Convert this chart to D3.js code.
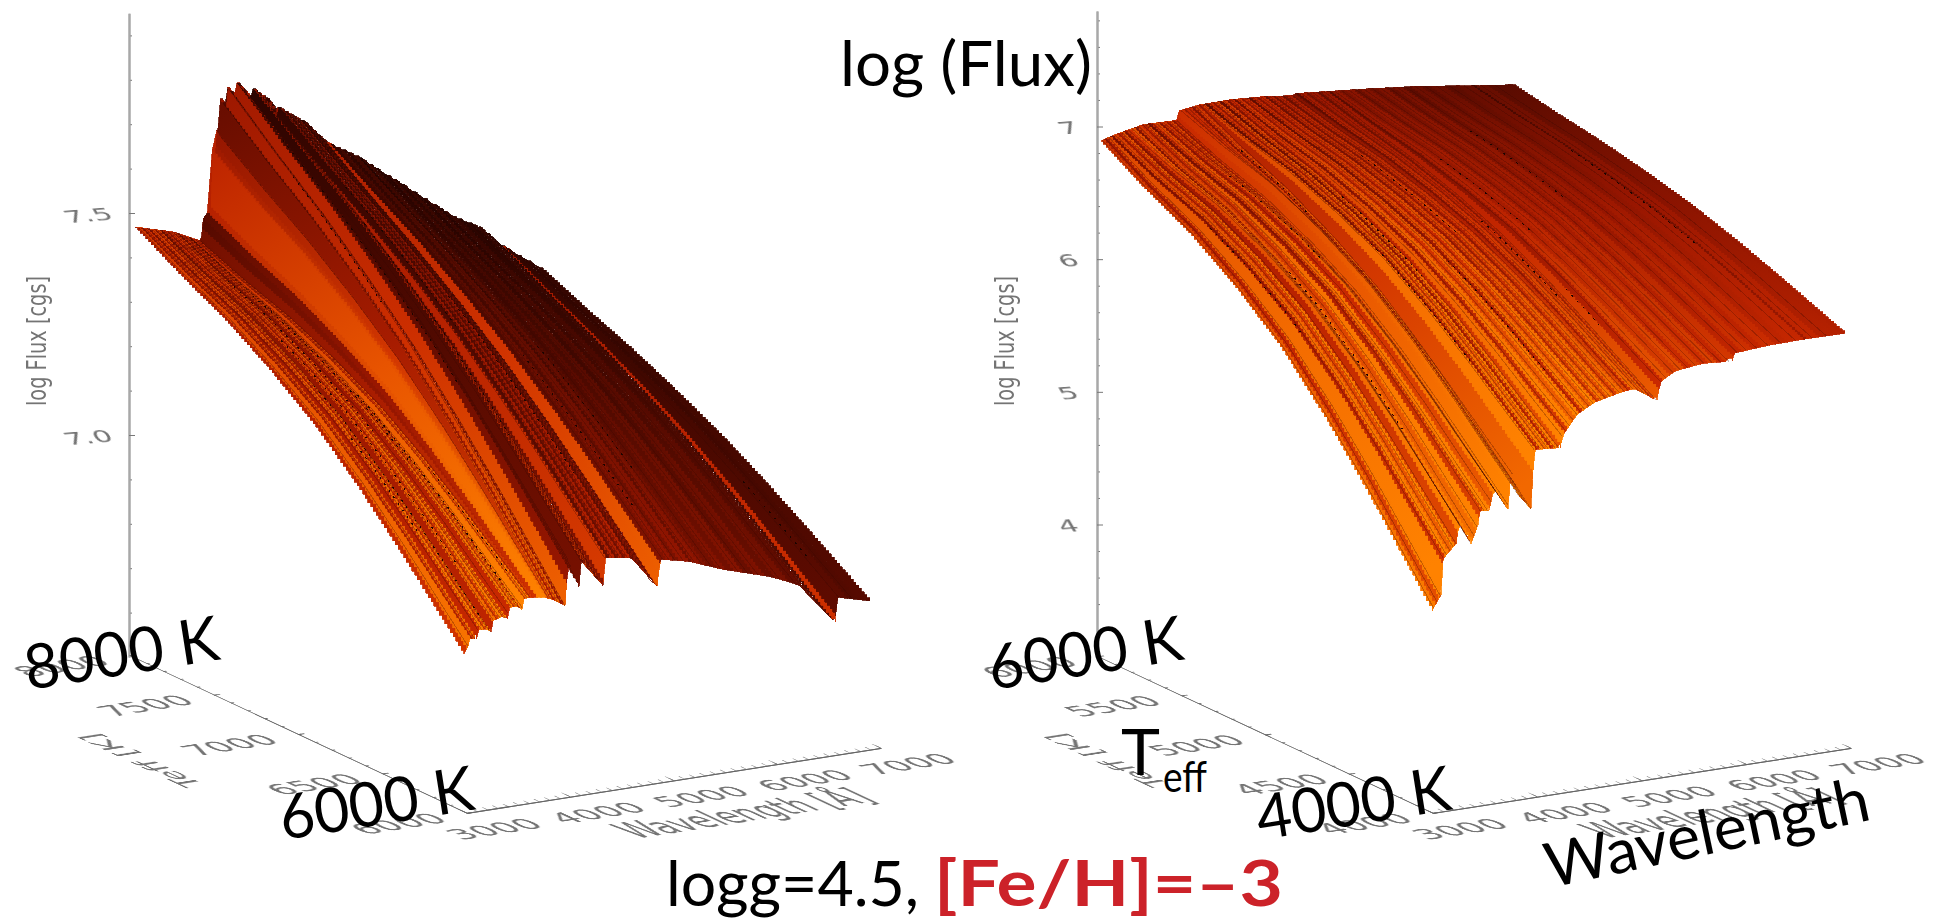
<!DOCTYPE html>
<html>
<head>
<meta charset="utf-8">
<script src="https://cdn.jsdelivr.net/npm/d3@7"></script>
<style>
  body { margin: 0; background: #fff; }
  .tick text, .ax-title { font-family: "DejaVu Sans", sans-serif; fill: #747474; filter: blur(0.35px); }
  .big { font-family: Lato, "Open Sans", sans-serif; fill: #000; }
</style>
</head>
<body>
<svg id="graph" width="1934" height="924"></svg>
<script>
// ---- left panel: Teff 6000-8000 K ----
var leftHotWave = [3000, 3357, 3640, 3650, 3660, 3735, 3745, 3780, 3790, 3815, 3820, 3885, 3890, 3975, 3985, 4130, 4140, 4275, 4370, 4380, 4630, 4850, 4880, 5135, 5580, 6070, 6320, 6550, 6600, 6920];
var leftHotFlux = [7.474, 7.45, 7.418, 7.422, 7.469, 7.492, 7.618, 7.612, 7.664, 7.652, 7.733, 7.712, 7.757, 7.732, 7.763, 7.722, 7.744, 7.717, 7.672, 7.694, 7.652, 7.597, 7.593, 7.557, 7.476, 7.386, 7.354, 7.302, 7.293, 7.239];
var leftCoolWave = [3000, 3040, 3045, 3120, 3130, 3232, 3260, 3270, 3367, 3420, 3430, 3512, 3560, 3570, 3647, 3783, 3870, 3976, 4005, 4111, 4121, 4343, 4357, 4614, 4865, 4894, 5174, 5502, 5947, 6227, 6585, 6604, 6923];
var leftCoolFlux = [6.855, 6.872, 6.89, 6.885, 6.905, 6.904, 6.895, 6.92, 6.927, 6.92, 6.945, 6.945, 6.935, 6.96, 6.96, 6.955, 6.946, 6.929, 7.032, 6.967, 7.027, 6.961, 7.023, 7.014, 6.94, 7.0, 6.985, 6.955, 6.923, 6.895, 6.796, 6.852, 6.832];
var leftBulgeWave = [3000, 4500, 6920];
var leftBulgeFlux = [0.079, 0.05, 0.034];
var leftHotShadeWave = [3000, 3300, 3640, 3660, 3760, 3800, 4000, 4300, 4880, 5300, 6000, 6920];
var leftHotShade = [0.6, 0.55, 0.5, 0.5, 0.62, 0.4, 0.33, 0.27, 0.12, 0.05, 0.04, 0.07];
var leftCoolShadeWave = [3000, 3300, 3640, 3700, 3780, 3830, 4100, 4400, 4900, 5500, 6000, 6500, 6920];
var leftCoolShade = [0.82, 0.85, 0.88, 1.0, 1.0, 0.82, 0.6, 0.5, 0.42, 0.36, 0.32, 0.27, 0.22];
var leftLineWave = [3000, 3025, 3060, 3090, 3120, 3150, 3185, 3215, 3240, 3270, 3300, 3330, 3360, 3385, 3410, 3440, 3470, 3495, 3520, 3550, 3575, 3600, 3625, 3655, 3700, 3800, 3825, 3850, 3885, 3925, 3960, 3990, 4020, 4050, 4085, 4110, 4150, 4185, 4225, 4260, 4295, 4330, 4345, 4370, 4410, 4450, 4490, 4525, 4560, 4600, 4640, 4680, 4720, 4770, 4820, 4855, 4890, 4950, 5010, 5070, 5165, 5200, 5270, 5330, 5440, 5520, 5600, 5690, 5790, 5880, 5900, 6000, 6130, 6270, 6400, 6555, 6590, 6700, 6800];
var leftLineShift = [-0.1, 0.08, -0.12, 0.06, -0.15, 0.1, -0.08, 0.12, -0.18, 0.05, -0.1, 0.1, -0.05, 0.13, -0.16, 0.08, -0.07, 0.12, -0.2, 0.1, -0.04, 0.08, -0.14, -0.22, 0, -0.08, 0.05, -0.12, 0.08, -0.15, 0.12, -0.18, 0.1, -0.12, 0.15, -0.2, 0.1, -0.1, 0.12, -0.14, 0.12, -0.1, 0.15, -0.14, 0.06, -0.1, 0.05, -0.07, 0.08, -0.1, 0.03, -0.07, 0.05, -0.06, 0.04, 0.32, -0.03, 0.02, -0.04, 0.03, -0.06, 0.03, 0, -0.03, 0.02, -0.02, 0.03, -0.03, 0.02, 0.04, -0.02, 0.02, -0.02, 0.01, -0.02, 0.32, 0, -0.02, 0];
var leftThinWave = [3040, 3075, 3105, 3135, 3170, 3200, 3228, 3255, 3285, 3315, 3345, 3372, 3398, 3425, 3455, 3482, 3508, 3535, 3562, 3588, 3612, 3640, 3815, 3840, 3868, 3905, 3942, 3975, 4005, 4035, 4068, 4098, 4130, 4168, 4205, 4242, 4278, 4312, 4358, 4390, 4430, 4470, 4508, 4542, 4580, 4620, 4660, 4700, 4745, 4795, 4840, 4920, 4980, 5040, 5120, 5230, 5300, 5390, 5480, 5650, 5740, 5840, 6050, 6200, 6340, 6480, 6620, 6750];
var leftSpeckWave = [3180, 3250, 3300, 3420, 3500, 3560, 3610, 3890, 4110, 4260, 4400, 4600, 5000, 5300, 6650];
var leftSpeckFrom = [0.6, 0.45, 0.35, 0.15, 0.2, 0.5, 0.7, 0.2, 0.1, 0.3, 0.2, 0.45, 0.55, 0.5, 0.7];
var leftSpeckTo = [0.8, 0.98, 0.9, 0.6, 0.7, 0.95, 0.95, 0.5, 0.65, 0.75, 0.55, 0.85, 0.9, 0.8, 0.9];
var leftFluxTicks = [7.0, 7.5];
var leftFluxMinor = [6.6, 6.7, 6.8, 6.9, 7.1, 7.2, 7.3, 7.4, 7.6, 7.7, 7.8, 7.9];
var leftTempTicks = [8000, 7500, 7000, 6500, 6000];

// ---- right panel: Teff 4000-6000 K ----
var rightHotWave = [3000, 3137, 3411, 3742, 3751, 3933, 4235, 4565, 4842, 4867, 5500, 6020, 6543, 6982];
var rightHotFlux = [6.903, 6.933, 6.977, 6.968, 7.038, 7.059, 7.062, 7.046, 7.019, 7.032, 6.987, 6.945, 6.886, 6.839];
var rightCoolWave = [3000, 3086, 3096, 3230, 3258, 3373, 3440, 3450, 3545, 3593, 3727, 3756, 3837, 3947, 3976, 4225, 4250, 4388, 4550, 4800, 4933, 5153, 5182, 5321, 5593, 5871, 5886, 6225, 6560, 6904];
var rightCoolFlux = [4.525, 4.635, 4.897, 5.002, 5.157, 4.984, 5.12, 5.224, 5.213, 5.372, 5.2, 5.496, 5.283, 5.18, 5.62, 5.605, 5.693, 5.834, 5.905, 5.95, 5.964, 5.848, 5.98, 6.047, 6.073, 6.055, 6.113, 6.132, 6.137, 6.133];
var rightBulgeWave = [3000, 4500, 6950];
var rightBulgeFlux = [0.37, 0.2, 0.098];
var rightHotShadeWave = [3000, 3700, 4300, 5000, 5700, 6300, 6950];
var rightHotShade = [0.62, 0.62, 0.55, 0.42, 0.33, 0.27, 0.24];
var rightCoolShadeWave = [3000, 3500, 4000, 4500, 5000, 5500, 6000, 6500, 6950];
var rightCoolShade = [0.9, 1.0, 0.95, 0.9, 0.82, 0.72, 0.68, 0.62, 0.56];
var rightLineWave = [3000, 3030, 3065, 3095, 3120, 3155, 3190, 3215, 3245, 3285, 3320, 3345, 3385, 3420, 3445, 3480, 3515, 3550, 3580, 3615, 3650, 3680, 3715, 3745, 3790, 3820, 3860, 3890, 3925, 3965, 3990, 4025, 4060, 4095, 4125, 4160, 4195, 4230, 4265, 4295, 4335, 4370, 4405, 4440, 4480, 4520, 4560, 4600, 4640, 4680, 4725, 4770, 4820, 4860, 4895, 4950, 5000, 5060, 5110, 5170, 5205, 5270, 5340, 5410, 5480, 5560, 5640, 5720, 5800, 5880, 5960, 6060, 6150, 6280, 6400, 6555, 6580, 6700, 6850];
var rightLineShift = [0.05, -0.1, 0.1, -0.18, 0.08, -0.06, 0.12, -0.14, 0.04, 0.12, -0.16, 0.06, -0.05, 0.1, -0.2, 0.03, 0.1, -0.12, 0.05, -0.08, 0.08, -0.1, 0.02, 0.04, -0.04, 0.03, -0.14, 0.08, -0.05, 0.1, -0.22, 0.06, -0.06, 0.12, -0.2, 0.1, -0.1, 0.06, -0.16, 0.1, -0.04, 0.08, -0.18, 0.06, -0.05, 0.08, -0.12, 0.05, -0.08, 0.06, -0.1, 0.04, -0.06, -0.13, 0.04, -0.04, 0.03, -0.07, 0.03, -0.1, 0.02, -0.03, 0.02, -0.05, 0.01, -0.03, 0.02, -0.04, 0.01, -0.05, 0, -0.03, 0.01, -0.02, 0.01, -0.1, 0.02, -0.01, 0];
var rightThinWave = [3015, 3048, 3080, 3108, 3138, 3172, 3203, 3230, 3265, 3302, 3333, 3365, 3402, 3432, 3462, 3498, 3532, 3565, 3598, 3632, 3665, 3698, 3730, 3768, 3805, 3840, 3875, 3908, 3945, 3978, 4008, 4042, 4078, 4110, 4142, 4178, 4212, 4248, 4280, 4315, 4352, 4388, 4422, 4460, 4500, 4540, 4580, 4620, 4660, 4702, 4748, 4795, 4840, 4878, 4920, 4975, 5030, 5085, 5140, 5188, 5238, 5305, 5375, 5445, 5520, 5600, 5680, 5760, 5840, 5920, 6010, 6105, 6215, 6340, 6480, 6640, 6775];
var rightSpeckWave = [3100, 3380, 3600, 3900, 4000, 4200, 4420, 4700, 5060, 5170, 5300, 5900, 6555];
var rightSpeckFrom = [0.3, 0.45, 0.2, 0.14, 0.5, 0.35, 0.6, 0.25, 0.5, 0.72, 0.3, 0.2, 0.3];
var rightSpeckTo = [0.6, 0.8, 0.5, 0.36, 0.8, 0.6, 0.9, 0.55, 0.75, 0.84, 0.6, 0.5, 0.7];
var rightFluxTicks = [4, 5, 6, 7];
var rightFluxMinor = [3.2, 3.4, 3.6, 3.8, 4.2, 4.4, 4.6, 4.8, 5.2, 5.4, 5.6, 5.8, 6.2, 6.4, 6.6, 6.8, 7.2, 7.4, 7.6, 7.8];
var rightTempTicks = [6000, 5500, 5000, 4500, 4000];

// ---- shared ----
var waveTicks = [3000, 4000, 5000, 6000, 7000];
var waveMinor = d3.range(3000, 7001, 100);
var curveShare = [0, 0.29, 0.69, 0.92, 1, 0.84, 0.57, 0.25, 0]; // how far the strips bow up along Teff
var curveAt = [0, 0.13, 0.27, 0.41, 0.545, 0.68, 0.8, 0.91, 1];
var shadeAlong = [0, 0.5, 1]; // hot-to-cool shade mix at the start, middle and end of a strip
var shadeStops = [0, 0.25, 0.45, 0.65, 0.8, 1];
var shadeColors = ["#220300", "#5c0b00", "#981600", "#c82800", "#e85400", "#ff8200"];

var svg = d3.select("#graph");
var color = d3.scaleLinear().domain(shadeStops).range(shadeColors).clamp(true);
var share = d3.scaleLinear().domain(curveAt).range(curveShare);
var gradId = 0;

function table(xs, ys) {
  return d3.scaleLinear().domain(xs).range(ys).clamp(true);
}

// Turn a list of points into a staircase, like the pixels of the original raster
function stairs(pts) {
  var out = [];
  pts.forEach(function(q, i) {
    out.push(q);
    if (i < pts.length - 1) out.push([pts[i + 1][0], q[1]]);
  });
  return out;
}

function drawPanel(p) {
  var g = svg.append("g");

  // Scales for the three projected directions
  var fluxY = d3.scaleLinear().domain(p.fluxDomain).range(p.fluxRange);
  var waveX = d3.scaleLinear().domain([3000, 7000]).range([0, p.waveLen]);
  var waveY = d3.scaleLinear().domain([3000, 7000]).range([0, -65]);
  var tempX = d3.scaleLinear().domain([p.tempTicks[0], p.tempTicks[4]]).range([0, p.tempLen]);
  var tempY = d3.scaleLinear().domain([p.tempTicks[0], p.tempTicks[4]]).range([0, 156]);

  var hot = table(p.hotWave, p.hotFlux), cool = table(p.coolWave, p.coolFlux), bulge = table(p.bulgeWave, p.bulgeFlux);
  var hotShade = table(p.hotShadeWave, p.hotShade), coolShade = table(p.coolShadeWave, p.coolShade);

  function project(w, t) {
    var temp = p.tempHi + (p.tempLo - p.tempHi) * t;
    var f = hot(w) * (1 - t) + cool(w) * t + bulge(w) * share(t);
    return [p.x0 + waveX(w) + tempX(temp), fluxY(f) + waveY(w) + tempY(temp)];
  }

  // Strip edges: the line list plus every edge knot, so notches stay sharp
  var edges = Array.from(new Set(p.lineWave.concat(p.hotWave, p.coolWave, [p.waveEnd])))
    .filter(w => w <= p.waveEnd).sort(d3.ascending);
  var shift = d3.scaleThreshold().domain(p.lineWave.slice(1)).range(p.lineShift);
  var rows = d3.range(0, 1.0001, 1 / 120);
  var outline = d3.line();
  var defs = g.append("defs");
  var surf = g.append("g").attr("shape-rendering", "crispEdges");

  d3.pairs(edges).forEach(function(pair) {
    var w0 = pair[0], w1 = Math.min(pair[1] + 12, p.waveEnd);
    var left = stairs(rows.map(t => project(w0, t)));
    var right = stairs(rows.map(t => project(w1, t))).reverse();
    var s = shift(w0) * 1.3, id = "strip" + (gradId++);
    var mid = (w0 + w1) / 2;
    var a = project(mid, 0), b = project(mid, 1);
    defs.append("linearGradient").attr("id", id).attr("gradientUnits", "userSpaceOnUse")
      .attr("x1", a[0]).attr("y1", a[1]).attr("x2", b[0]).attr("y2", b[1])
      .selectAll("stop").data(shadeAlong).enter().append("stop")
      .attr("offset", (d, i) => i / 2)
      .attr("stop-color", d => color(hotShade(mid) + (coolShade(mid) - hotShade(mid)) * d + s));
    surf.append("path")
      .attr("d", outline(left.concat(right)) + "Z")
      .attr("fill", "url(#" + id + ")")
      .attr("stroke", "url(#" + id + ")").attr("stroke-width", 0.8);
  });

  // Fine dark lines running along the strips
  p.thinWave.forEach(function(w) {
    var pts = rows.map(t => project(w, t));
    surf.append("path").attr("d", outline(pts)).attr("fill", "none")
      .attr("stroke", "#3a0700").attr("stroke-width", 1).attr("stroke-opacity", 0.28);
  });

  // Small dark streaks along some lines
  p.speckWave.forEach(function(w, i) {
    var pts = d3.range(p.speckFrom[i], p.speckTo[i], 0.02).map(t => project(w, t));
    surf.append("path").attr("d", outline(pts)).attr("fill", "none")
      .attr("stroke", "#1c0400").attr("stroke-width", 1).attr("stroke-dasharray", "2 6");
  });

  // Flux axis
  var yAxis = g.append("g").attr("transform", "translate(" + p.x0 + ",0)");
  var fluxAxis = d3.scaleLinear().domain(p.fluxDomain).range(p.fluxRange);
  var fluxShown = fluxAxis.copy().domain(p.fluxEnds).range(p.fluxEnds.map(fluxAxis));
  yAxis.append("g").call(d3.axisRight(fluxShown).tickValues(p.fluxMinor).tickSize(3).tickSizeOuter(0).tickFormat(""));
  var yMajor = yAxis.append("g").call(d3.axisRight(fluxShown).tickValues(p.fluxTicks).tickSize(6).tickSizeOuter(0).tickFormat(d3.format(p.fluxFormat)));
  yMajor.selectAll("text").attr("x", null).attr("dy", null).attr("text-anchor", "end")
    .attr("font-size", 19)
    .attr("transform", "matrix(1.55,-0.12,0.5,0.85," + (-p.labelGap) + ",6)");
  yAxis.selectAll(".domain").attr("stroke", "#a8a8a8").attr("stroke-width", 2);
  yAxis.selectAll("line").attr("stroke", "#777");
  g.append("text").attr("class", "ax-title")
    .attr("transform", "translate(" + (p.x0 - 83) + ",341) rotate(-90)")
    .attr("text-anchor", "middle").attr("font-size", 27).attr("textLength", 130).attr("lengthAdjust", "spacingAndGlyphs")
    .text("log Flux [cgs]");

  // Floor axes share one sheared plane so the labels lie flat on it
  var floor = g.append("g")
    .attr("transform", "matrix(1," + (-65 / p.waveLen) + ",1.69,0.79," + (p.x0 + p.tempLen) + ",813)");
  var waveAxis = d3.scaleLinear().domain([3000, 7000]).range([0, p.waveLen]);
  var tempAxis = d3.scaleLinear().domain([p.tempTicks[0], p.tempTicks[4]]).range([-p.tempLen / 1.69, 0]);

  floor.append("g").call(d3.axisBottom(waveAxis).tickValues(waveMinor).tickSize(-3).tickSizeOuter(0).tickFormat(""));
  floor.append("g").call(d3.axisBottom(waveAxis).tickValues(waveTicks).tickSize(-5).tickSizeOuter(0).tickPadding(22).tickFormat(d3.format("d")))
    .selectAll("text").attr("x", -4);
  floor.append("g").call(d3.axisLeft(tempAxis).tickValues(d3.range(p.tempTicks[4], p.tempTicks[0] + 1, 100)).tickSize(-3).tickSizeOuter(0).tickFormat(""));
  floor.append("g").call(d3.axisLeft(tempAxis).tickValues(p.tempTicks).tickSize(-6).tickSizeOuter(0).tickPadding(20).tickFormat(d3.format("d")));
  floor.selectAll("text").attr("font-size", 26).attr("transform", "scale(1.28,0.62)");
  floor.selectAll(".domain").attr("stroke", "#666").attr("stroke-width", 1);
  floor.selectAll("line").attr("stroke", "#666").attr("stroke-width", 0.8);
  floor.append("text").attr("class", "ax-title")
    .attr("x", p.waveLen / 2).attr("y", 50).attr("text-anchor", "middle")
    .attr("font-size", 24).attr("textLength", 240).attr("lengthAdjust", "spacingAndGlyphs")
    .text("Wavelength [Å]");
  floor.append("text").attr("class", "ax-title")
    .attr("transform", "translate(-150,-98) rotate(-90)").attr("text-anchor", "middle")
    .attr("font-size", 26).attr("textLength", 66).attr("lengthAdjust", "spacingAndGlyphs")
    .text("Teff [K]");
}

drawPanel({
  x0: 129, waveLen: 414, tempLen: 337, tempHi: 7965, tempLo: 6012, waveEnd: 6920,
  fluxDomain: [7.5, 7], fluxRange: [213, 435], fluxEnds: [7.95, 6.5], fluxFormat: ".1f", labelGap: 14,
  fluxTicks: leftFluxTicks, fluxMinor: leftFluxMinor, tempTicks: leftTempTicks,
  hotWave: leftHotWave, hotFlux: leftHotFlux, coolWave: leftCoolWave, coolFlux: leftCoolFlux,
  bulgeWave: leftBulgeWave, bulgeFlux: leftBulgeFlux,
  hotShadeWave: leftHotShadeWave, hotShade: leftHotShade, coolShadeWave: leftCoolShadeWave, coolShade: leftCoolShade,
  lineWave: leftLineWave, lineShift: leftLineShift, thinWave: leftThinWave,
  speckWave: leftSpeckWave, speckFrom: leftSpeckFrom, speckTo: leftSpeckTo
});

drawPanel({
  x0: 1097, waveLen: 418, tempLen: 335, tempHi: 5979, tempLo: 4000, waveEnd: 6950,
  fluxDomain: [7, 4], fluxRange: [126.5, 524.5], fluxEnds: [7.87, 3], fluxFormat: "d", labelGap: 16,
  fluxTicks: rightFluxTicks, fluxMinor: rightFluxMinor, tempTicks: rightTempTicks,
  hotWave: rightHotWave, hotFlux: rightHotFlux, coolWave: rightCoolWave, coolFlux: rightCoolFlux,
  bulgeWave: rightBulgeWave, bulgeFlux: rightBulgeFlux,
  hotShadeWave: rightHotShadeWave, hotShade: rightHotShade, coolShadeWave: rightCoolShadeWave, coolShade: rightCoolShade,
  lineWave: rightLineWave, lineShift: rightLineShift, thinWave: rightThinWave,
  speckWave: rightSpeckWave, speckFrom: rightSpeckFrom, speckTo: rightSpeckTo
});

// Slide annotations on top of the plots
function big(text, x, y, size, len, angle) {
  return svg.append("text").attr("class", "big")
    .attr("transform", "translate(" + x + "," + y + ") rotate(" + (angle || 0) + ")")
    .attr("font-size", size).attr("textLength", len).attr("lengthAdjust", "spacingAndGlyphs")
    .text(text);
}
big("log (Flux)", 840, 86, 62, 252);
big("8000 K", 28, 690, 62, 196, -9);
big("6000 K", 283, 840, 62, 196, -9);
big("6000 K", 992, 690, 62, 196, -9);
big("4000 K", 1260, 840, 62, 196, -9);
big("T", 1121, 775, 64, 39);
big("eff", 1163, 792, 42, 44);
big("Wavelength", 1550, 888, 62, 330, -12);
big("logg=4.5,", 666, 906, 62, 253);
big("[Fe/H]=–3", 934, 906, 64, 349).attr("font-weight", 700).style("fill", "#cc2229");
</script>
</body>
</html>
